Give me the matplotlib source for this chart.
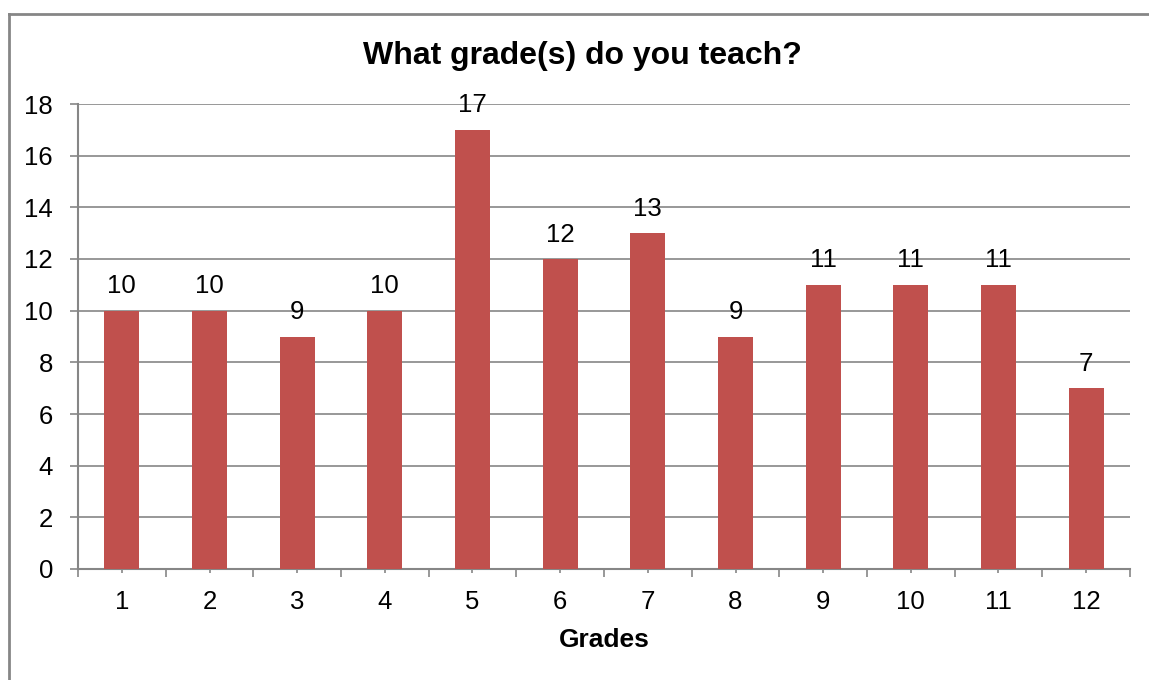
import numpy as np
import matplotlib
matplotlib.use('Agg')
import matplotlib.pyplot as plt
from matplotlib.lines import Line2D

plt.rcParams['font.family'] = ['Liberation Sans', 'DejaVu Sans']

grades = ['1', '2', '3', '4', '5', '6', '7', '8', '9', '10', '11', '12']
counts = [10, 10, 9, 10, 17, 12, 13, 9, 11, 11, 11, 7]

bar_color = '#C0504D'
axis_gray = '#868686'

fig = plt.figure(figsize=(11.49, 6.80), dpi=100)
ax = fig.add_axes([78 / 1149, 1 - 569 / 680, (1130 - 78) / 1149, (569 - 104) / 680])

x = np.arange(len(grades))
bars = ax.bar(x, counts, width=0.4, color=bar_color, zorder=3)
ax.bar_label(bars, labels=[str(c) for c in counts], padding=9, fontsize=18.5)

ax.set_xlim(-0.5, len(grades) - 0.5)
ax.set_ylim(0, 18)
ax.set_yticks(range(0, 19, 2))
ax.set_xticks(x)
ax.set_xticklabels(grades)
ax.set_xticks(np.arange(-0.5, len(grades), 1), minor=True)

ax.grid(axis='y', color=axis_gray, linewidth=1.2, zorder=0)
for side in ('top', 'right'):
    ax.spines[side].set_visible(False)
for side in ('left', 'bottom'):
    ax.spines[side].set_color(axis_gray)
    ax.spines[side].set_linewidth(1.5)

ax.tick_params(axis='y', length=6, width=1.2, color=axis_gray, labelsize=18.5, pad=12)
ax.tick_params(axis='x', which='major', length=3, width=1.2, color=axis_gray,
               labelsize=18.5, pad=12)
ax.tick_params(axis='x', which='minor', length=6, width=1.2, color=axis_gray)

ax.set_xlabel('Grades', fontsize=19, fontweight='bold', labelpad=10)
fig.text(582 / 1149, 1 - 56 / 680, 'What grade(s) do you teach?', fontsize=23,
         fontweight='bold', ha='center', va='center')

# chart border (only left and top edges fall inside the image)
bx, by = 8.5 / 1149, 1 - 14 / 680
fig.add_artist(Line2D([bx, bx], [0, by], color=axis_gray, linewidth=2))
fig.add_artist(Line2D([bx, 1], [by, by], color=axis_gray, linewidth=2))

fig.savefig('out.png', dpi=100)
